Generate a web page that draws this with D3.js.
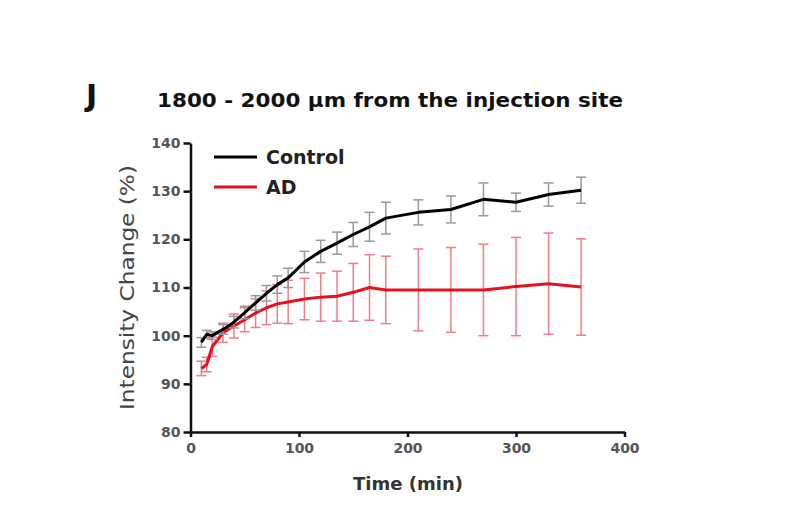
<!DOCTYPE html>
<html>
<head>
<meta charset="utf-8">
<script src="https://cdn.jsdelivr.net/npm/d3@7"></script>
<style>
  body { margin: 0; background: #fff; }
  svg { display: block; font-family: "DejaVu Sans", Verdana, sans-serif; }
</style>
</head>
<body>
<svg id="chart" width="811" height="512"></svg>
<script>
const times = [10, 15, 20, 30, 40, 50, 60, 70, 80, 90, 105, 120, 135, 150, 165, 180, 210, 240, 270, 300, 330, 360];
const controlMean = [98.6, 100.3, 100, 101.3, 102.8, 104.8, 106.8, 108.8, 110.6, 112, 115.3, 117.5, 119.2, 121, 122.6, 124.4, 125.6, 126.2, 128.3, 127.7, 129.3, 130.2];
const controlErr  = [1.0, 0.8, 0.8, 1.0, 1.2, 1.3, 1.5, 1.6, 1.8, 2.0, 2.2, 2.3, 2.3, 2.5, 3.0, 3.3, 2.6, 2.8, 3.4, 1.9, 2.4, 2.7];
const adMean = [93.2, 94, 97.7, 100.6, 102, 103.3, 104.7, 105.8, 106.6, 107, 107.6, 108, 108.2, 109, 110, 109.5, 109.5, 109.5, 109.5, 110.2, 110.8, 110.1];
const adErr  = [1.5, 1.5, 2.0, 2.0, 2.5, 2.5, 3.0, 3.5, 4.0, 4.5, 4.3, 5.0, 5.2, 6.0, 6.8, 7.0, 8.5, 8.8, 9.5, 10.2, 10.5, 10.0];
const xTicks = [0, 100, 200, 300, 400];
const yTicks = [80, 90, 100, 110, 120, 130, 140];
const seriesNames = ["Control", "AD"];
const panelLabel = "J";
const titleText = "1800 - 2000 \u00b5m from the injection site";
const xLabel = "Time (min)";
const yLabel = "Intensity Change (%)";

const svg = d3.select("#chart");
const x = d3.scaleLinear().domain([0, 400]).range([190.5, 624.5]);
const y = d3.scaleLinear().domain([80, 140]).range([432, 143]);

// Axes
const xAxis = svg.append("g").attr("transform", `translate(0,${y(80)})`)
  .call(d3.axisBottom(x).tickValues(xTicks).tickSize(5).tickSizeOuter(0).tickPadding(6));
const yAxis = svg.append("g").attr("transform", `translate(${x(0)},0)`)
  .call(d3.axisLeft(y).tickValues(yTicks).tickSize(7).tickSizeOuter(0).tickPadding(3));
[xAxis, yAxis].forEach(a => {
  a.select(".domain").attr("stroke", "#111").attr("stroke-width", 2.5);
  a.selectAll(".tick line").attr("stroke", "#111").attr("stroke-width", 2.5);
  a.selectAll(".tick text").attr("fill", "#555").attr("font-size", 14).attr("font-weight", "bold")
    .attr("font-family", "'DejaVu Sans', Verdana, sans-serif");
});

function drawSeries(mean, err, lineColor, errColor) {
  const pts = times.map((t, i) => ({t, m: mean[i], e: err[i]}));
  const g = svg.append("g");
  const eb = g.selectAll(".eb").data(pts).enter().append("g");
  eb.append("line").attr("x1", d => x(d.t)).attr("x2", d => x(d.t))
    .attr("y1", d => y(d.m - d.e)).attr("y2", d => y(d.m + d.e))
    .attr("stroke", errColor).attr("stroke-width", 1.5);
  [-1, 1].forEach(s => {
    eb.append("line").attr("x1", d => x(d.t) - 5).attr("x2", d => x(d.t) + 5)
      .attr("y1", d => y(d.m + s * d.e)).attr("y2", d => y(d.m + s * d.e))
      .attr("stroke", errColor).attr("stroke-width", 1.5);
  });
  g.append("path").datum(pts)
    .attr("d", d3.line().x(d => x(d.t)).y(d => y(d.m)))
    .attr("fill", "none").attr("stroke", lineColor).attr("stroke-width", 3).attr("stroke-linejoin", "round");
}
drawSeries(adMean, adErr, "#e8101e", "#f07c88");
drawSeries(controlMean, controlErr, "#000", "#9a9a9a");

// Legend
const legend = [{name: seriesNames[0], color: "#000", yy: 157}, {name: seriesNames[1], color: "#e8101e", yy: 187}];
legend.forEach(l => {
  svg.append("line").attr("x1", 214).attr("x2", 257).attr("y1", l.yy).attr("y2", l.yy)
    .attr("stroke", l.color).attr("stroke-width", 3);
  svg.append("text").attr("x", 266).attr("y", l.yy).attr("dy", "0.36em")
    .attr("font-size", 19).attr("font-weight", "bold").attr("fill", "#222").text(l.name);
});

// Titles
svg.append("text").attr("x", 86).attr("y", 106).attr("font-size", 30).attr("font-weight", "bold")
  .attr("fill", "#111").text(panelLabel);
svg.append("text").attr("x", 157).attr("y", 107).attr("font-size", 19.5).attr("font-weight", "bold")
  .attr("fill", "#111").attr("textLength", 466).attr("lengthAdjust", "spacingAndGlyphs").text(titleText);
svg.append("text").attr("transform", `translate(134,${(y(80) + y(140)) / 2}) rotate(-90)`)
  .attr("text-anchor", "middle").attr("font-size", 19).attr("fill", "#444")
  .attr("textLength", 245).attr("lengthAdjust", "spacingAndGlyphs").text(yLabel);
svg.append("text").attr("x", 408).attr("y", 490).attr("text-anchor", "middle")
  .attr("font-size", 18).attr("font-weight", "bold").attr("fill", "#333").text(xLabel);
</script>
</body>
</html>
